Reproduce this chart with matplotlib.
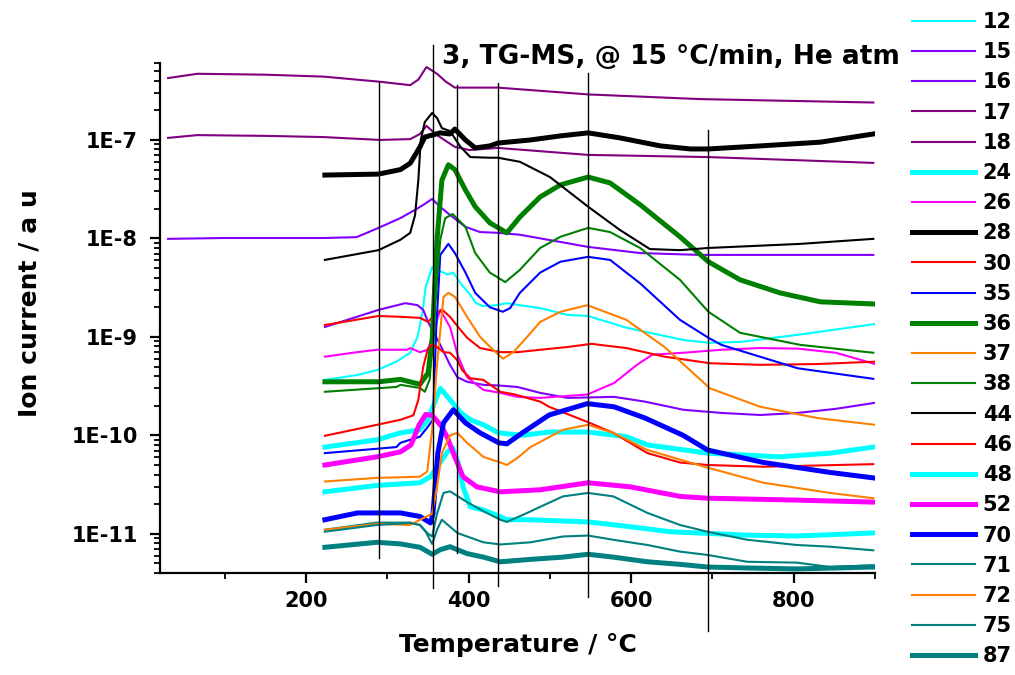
import matplotlib
matplotlib.use("Agg")
import matplotlib.pyplot as plt
from matplotlib.ticker import FixedLocator, LogLocator, FuncFormatter, MultipleLocator, NullFormatter
import math

plt.rcParams['font.family'] = ['DejaVu Sans']
plt.rcParams['font.weight'] = 'bold'

title = "3, TG-MS, @ 15 °C/min, He atm"
x_label = "Temperature / °C"
y_label = "Ion current / a u"

t12 = [223, 263, 287, 311, 328, 337, 343, 347, 355, 361, 374, 381, 390, 402, 409, 418, 435, 447, 463, 488, 522, 547, 594, 664, 697, 735, 805, 900]
v12 = [3.66e-10, 4.1e-10, 4.6e-10, 5.6e-10, 6.9e-10, 1.0e-9, 1.75e-9, 3.2e-9, 5.1e-9, 4.8e-9, 4.3e-9, 4.5e-9, 3.5e-9, 2.67e-9, 2.2e-9, 2.05e-9, 2.1e-9, 2.2e-9, 2.1e-9, 1.96e-9, 1.67e-9, 1.63e-9, 1.24e-9, 9.3e-10, 8.7e-10, 8.9e-10, 1.05e-9, 1.35e-9]

t15 = [223, 289, 322, 337, 344, 350, 365, 377, 386, 398, 418, 439, 460, 488, 522, 579, 617, 664, 711, 759, 805, 852, 900]
v15 = [1.26e-9, 1.88e-9, 2.2e-9, 2.1e-9, 1.88e-9, 1.42e-9, 8.3e-10, 5.2e-10, 3.9e-10, 3.5e-10, 3.26e-10, 3.2e-10, 3.1e-10, 2.7e-10, 2.4e-10, 2.46e-10, 2.2e-10, 1.82e-10, 1.69e-10, 1.61e-10, 1.69e-10, 1.86e-10, 2.14e-10]

t16 = [30, 100, 221, 262, 289, 316, 334, 346, 355, 365, 377, 396, 414, 436, 463, 513, 547, 611, 685, 898]
v16 = [9.9e-9, 1.01e-8, 1.01e-8, 1.03e-8, 1.28e-8, 1.61e-8, 1.95e-8, 2.24e-8, 2.52e-8, 2.09e-8, 1.73e-8, 1.31e-8, 1.16e-8, 1.14e-8, 1.09e-8, 9.2e-9, 8.2e-9, 7.1e-9, 6.8e-9, 6.8e-9]

t17 = [30, 66, 150, 221, 291, 328, 340, 348, 361, 383, 401, 436, 547, 695, 898]
v17 = [1.05e-7, 1.12e-7, 1.1e-7, 1.07e-7, 1.0e-7, 1.02e-7, 1.15e-7, 1.39e-7, 1.12e-7, 8.5e-8, 7.9e-8, 8.3e-8, 7.05e-8, 6.7e-8, 5.85e-8]

t18 = [30, 66, 150, 221, 291, 328, 338, 348, 361, 372, 383, 436, 547, 685, 898]
v18 = [4.25e-7, 4.7e-7, 4.6e-7, 4.4e-7, 3.9e-7, 3.6e-7, 4.1e-7, 5.5e-7, 4.7e-7, 3.9e-7, 3.4e-7, 3.4e-7, 2.9e-7, 2.6e-7, 2.4e-7]

t24 = [223, 287, 316, 340, 350, 356, 365, 377, 390, 402, 418, 437, 466, 499, 547, 594, 620, 694, 783, 845, 898]
v24 = [7.6e-11, 9.0e-11, 1.06e-10, 1.14e-10, 1.44e-10, 1.95e-10, 3.0e-10, 2.3e-10, 1.7e-10, 1.44e-10, 1.28e-10, 1.06e-10, 1.0e-10, 1.08e-10, 1.08e-10, 9.7e-11, 8.0e-11, 6.6e-11, 6.05e-11, 6.6e-11, 7.6e-11]

t26 = [223, 263, 287, 324, 328, 340, 350, 357, 365, 377, 387, 398, 418, 439, 460, 488, 546, 579, 607, 626, 664, 711, 759, 805, 852, 900]
v26 = [6.3e-10, 7.0e-10, 7.4e-10, 7.4e-10, 7.7e-10, 7.0e-10, 7.4e-10, 1.18e-9, 1.88e-9, 1.26e-9, 6.3e-10, 3.9e-10, 2.9e-10, 2.7e-10, 2.46e-10, 2.4e-10, 2.6e-10, 3.4e-10, 5.2e-10, 6.6e-10, 6.9e-10, 7.4e-10, 7.7e-10, 7.6e-10, 6.9e-10, 5.3e-10]

t28 = [223, 289, 316, 328, 340, 346, 365, 377, 383, 396, 408, 426, 436, 476, 513, 547, 586, 636, 673, 695, 759, 833, 898]
v28 = [4.4e-8, 4.5e-8, 5.0e-8, 5.8e-8, 8.5e-8, 1.07e-7, 1.18e-7, 1.15e-7, 1.29e-7, 1.0e-7, 8.3e-8, 8.7e-8, 9.3e-8, 1.0e-7, 1.1e-7, 1.18e-7, 1.05e-7, 8.7e-8, 8.1e-8, 8.1e-8, 8.7e-8, 9.5e-8, 1.15e-7]

t30 = [223, 289, 316, 340, 350, 356, 367, 377, 387, 398, 414, 439, 460, 488, 522, 551, 594, 641, 697, 759, 829, 900]
v30 = [1.32e-9, 1.63e-9, 1.6e-9, 1.56e-9, 1.42e-9, 1.6e-9, 1.9e-9, 1.6e-9, 1.26e-9, 9.8e-10, 7.7e-10, 7.0e-10, 7.0e-10, 7.4e-10, 7.9e-10, 8.5e-10, 7.7e-10, 6.3e-10, 5.4e-10, 5.2e-10, 5.3e-10, 5.6e-10]

t35 = [223, 311, 316, 340, 349, 356, 360, 365, 375, 383, 396, 408, 426, 442, 451, 463, 488, 513, 547, 574, 611, 660, 695, 711, 805, 898]
v35 = [6.6e-11, 7.6e-11, 8.4e-11, 9.7e-11, 1.2e-10, 1.44e-10, 1.18e-9, 6.8e-9, 8.8e-9, 7.1e-9, 4.5e-9, 2.8e-9, 2.0e-9, 1.8e-9, 1.96e-9, 2.8e-9, 4.5e-9, 5.8e-9, 6.5e-9, 6.05e-9, 3.5e-9, 1.49e-9, 9.8e-10, 8.3e-10, 4.8e-10, 3.75e-10]

t36 = [223, 289, 316, 340, 350, 355, 361, 367, 375, 383, 396, 408, 426, 447, 463, 488, 513, 547, 574, 611, 660, 695, 734, 783, 833, 898]
v36 = [3.5e-10, 3.5e-10, 3.7e-10, 3.3e-10, 4.3e-10, 9.3e-10, 9.7e-9, 3.9e-8, 5.6e-8, 5.0e-8, 3.1e-8, 2.1e-8, 1.44e-8, 1.14e-8, 1.65e-8, 2.64e-8, 3.5e-8, 4.2e-8, 3.66e-8, 2.2e-8, 1.04e-8, 5.8e-9, 3.8e-9, 2.8e-9, 2.27e-9, 2.16e-9]

t37 = [223, 287, 340, 349, 355, 361, 369, 375, 383, 398, 414, 430, 442, 455, 472, 488, 513, 546, 594, 641, 697, 759, 829, 900]
v37 = [3.4e-11, 3.7e-11, 3.8e-11, 4.3e-11, 1.14e-10, 5.2e-10, 2.55e-9, 2.8e-9, 2.55e-9, 1.6e-9, 1.0e-9, 7.4e-10, 6.0e-10, 7.0e-10, 1.0e-9, 1.42e-9, 1.8e-9, 2.1e-9, 1.49e-9, 7.9e-10, 3.0e-10, 1.95e-10, 1.5e-10, 1.28e-10]

t38 = [223, 311, 316, 340, 346, 352, 359, 365, 371, 380, 396, 408, 426, 445, 463, 488, 513, 547, 574, 611, 660, 695, 734, 808, 898]
v38 = [2.77e-10, 3.1e-10, 3.26e-10, 3.03e-10, 2.77e-10, 3.7e-10, 2.4e-9, 9.7e-9, 1.6e-8, 1.77e-8, 1.31e-8, 7.1e-9, 4.5e-9, 3.6e-9, 4.8e-9, 8.0e-9, 1.04e-8, 1.28e-8, 1.16e-8, 8.0e-9, 3.8e-9, 1.8e-9, 1.1e-9, 8.3e-10, 6.9e-10]

t44 = [223, 289, 316, 328, 334, 338, 341, 346, 355, 361, 367, 377, 390, 402, 426, 436, 463, 500, 547, 586, 623, 660, 695, 808, 898]
v44 = [6.05e-9, 7.6e-9, 9.7e-9, 1.14e-8, 1.73e-8, 3.9e-8, 1.0e-7, 1.52e-7, 1.88e-7, 1.67e-7, 1.32e-7, 1.23e-7, 8.5e-8, 6.7e-8, 6.6e-8, 6.6e-8, 6.0e-8, 4.2e-8, 2.1e-8, 1.22e-8, 7.8e-9, 7.6e-9, 8.0e-9, 8.8e-9, 9.9e-9]

t46 = [223, 287, 316, 332, 338, 344, 350, 355, 361, 369, 377, 386, 392, 402, 418, 439, 457, 488, 499, 546, 578, 620, 660, 694, 763, 898]
v46 = [9.9e-11, 1.28e-10, 1.44e-10, 1.6e-10, 2.3e-10, 4.95e-10, 7.7e-10, 8.3e-10, 7.9e-10, 7.0e-10, 6.9e-10, 5.8e-10, 4.6e-10, 3.8e-10, 3.66e-10, 2.77e-10, 2.6e-10, 2.2e-10, 1.95e-10, 1.37e-10, 1.06e-10, 6.6e-11, 5.3e-11, 5.0e-11, 4.8e-11, 5.1e-11]

t48 = [223, 287, 340, 353, 361, 374, 380, 387, 393, 402, 418, 439, 447, 476, 547, 599, 648, 743, 804, 898]
v48 = [2.67e-11, 3.1e-11, 3.3e-11, 3.8e-11, 4.8e-11, 6.8e-11, 7.5e-11, 5.3e-11, 3.0e-11, 1.88e-11, 1.75e-11, 1.49e-11, 1.39e-11, 1.39e-11, 1.32e-11, 1.18e-11, 1.05e-11, 9.7e-12, 9.5e-12, 1.02e-11]

t52 = [223, 287, 316, 329, 339, 347, 355, 367, 374, 381, 393, 410, 439, 488, 547, 599, 660, 694, 804, 898]
v52 = [5.0e-11, 6.05e-11, 6.8e-11, 8.0e-11, 1.28e-10, 1.63e-10, 1.6e-10, 1.22e-10, 9.4e-11, 6.6e-11, 3.8e-11, 3.0e-11, 2.67e-11, 2.8e-11, 3.3e-11, 3.0e-11, 2.4e-11, 2.3e-11, 2.2e-11, 2.1e-11]

t70 = [223, 263, 287, 316, 340, 353, 356, 362, 369, 381, 396, 414, 437, 447, 466, 499, 546, 579, 617, 664, 694, 763, 845, 898]
v70 = [1.39e-11, 1.63e-11, 1.63e-11, 1.63e-11, 1.5e-11, 1.29e-11, 1.6e-11, 6.6e-11, 1.34e-10, 1.82e-10, 1.34e-10, 1.06e-10, 8.4e-11, 8.2e-11, 1.06e-10, 1.61e-10, 2.1e-10, 1.95e-10, 1.5e-10, 1.0e-10, 7.1e-11, 5.3e-11, 4.2e-11, 3.7e-11]

t71 = [223, 287, 328, 340, 350, 355, 361, 369, 377, 398, 418, 439, 447, 472, 488, 516, 547, 578, 620, 660, 694, 743, 804, 845, 898]
v71 = [1.1e-11, 1.3e-11, 1.3e-11, 1.23e-11, 1.0e-11, 9.4e-12, 1.6e-11, 2.6e-11, 2.7e-11, 2.1e-11, 1.7e-11, 1.39e-11, 1.32e-11, 1.63e-11, 1.88e-11, 2.4e-11, 2.6e-11, 2.4e-11, 1.63e-11, 1.23e-11, 1.05e-11, 8.7e-12, 7.7e-12, 7.4e-12, 6.8e-12]

t72 = [223, 287, 328, 340, 355, 361, 367, 377, 386, 398, 418, 439, 447, 460, 476, 516, 547, 578, 620, 694, 763, 845, 898]
v72 = [1.1e-11, 1.26e-11, 1.23e-11, 1.39e-11, 1.6e-11, 3.0e-11, 6.6e-11, 1.0e-10, 1.06e-10, 8.4e-11, 6.05e-11, 5.3e-11, 5.0e-11, 5.9e-11, 7.6e-11, 1.14e-10, 1.28e-10, 1.06e-10, 7.1e-11, 4.7e-11, 3.3e-11, 2.6e-11, 2.3e-11]

t75 = [223, 287, 328, 340, 347, 355, 361, 367, 377, 386, 398, 418, 439, 476, 516, 547, 578, 620, 660, 694, 743, 804, 845, 898]
v75 = [1.05e-11, 1.23e-11, 1.29e-11, 1.23e-11, 1.05e-11, 7.9e-12, 1.1e-11, 1.39e-11, 1.18e-11, 1.02e-11, 9.4e-12, 8.2e-12, 7.8e-12, 8.2e-12, 9.4e-12, 9.6e-12, 8.7e-12, 7.7e-12, 6.6e-12, 6.1e-12, 5.2e-12, 5.1e-12, 4.6e-12, 4.8e-12]

t87 = [223, 287, 316, 340, 355, 365, 377, 386, 398, 418, 439, 476, 516, 547, 578, 620, 660, 694, 743, 804, 898]
v87 = [7.3e-12, 8.2e-12, 7.9e-12, 7.3e-12, 6.2e-12, 6.9e-12, 7.4e-12, 6.9e-12, 6.3e-12, 5.8e-12, 5.2e-12, 5.5e-12, 5.8e-12, 6.2e-12, 5.8e-12, 5.2e-12, 4.9e-12, 4.6e-12, 4.5e-12, 4.4e-12, 4.6e-12]

mz_labels = ["12", "15", "16", "17", "18", "24", "26", "28", "30", "35", "36",
             "37", "38", "44", "46", "48", "52", "70", "71", "72", "75", "87"]
xs = [t12, t15, t16, t17, t18, t24, t26, t28, t30, t35, t36,
      t37, t38, t44, t46, t48, t52, t70, t71, t72, t75, t87]
ys = [v12, v15, v16, v17, v18, v24, v26, v28, v30, v35, v36,
      v37, v38, v44, v46, v48, v52, v70, v71, v72, v75, v87]

vline_temps = [289, 356, 386, 436, 547, 695]

# styles
CY, VI, PU, MA, BK, RD, BL, GR, OR, TE = ('#00FFFF', '#8000FF', '#800080', '#FF00FF', '#000000',
                                          '#FF0000', '#0000FF', '#008000', '#FF8000', '#008080')
colors = [CY, VI, VI, PU, PU, CY, MA, BK, RD, BL, GR, OR, GR, BK, RD, CY, MA, BL, TE, OR, TE, TE]
thick = [False, False, False, False, False, True, False, True, False, False, True,
         False, False, False, False, True, True, True, False, False, False, True]
vline_ext = [(0.029, 0.963), (-0.029, 1.035), (0.039, 0.957), (-0.025, 0.961), (-0.047, 0.98), (-0.114, 0.869)]

fig = plt.figure(figsize=(10.15, 6.75), dpi=100)
ax = fig.add_axes([0.1576, 0.1511, 0.7044, 0.7556])

handles = []
for lab, x, y, c, th in zip(mz_labels, xs, ys, colors, thick):
    ln, = ax.plot(x, y, color=c, lw=3.6 if th else 1.5, label=lab, solid_joinstyle='round')
    handles.append(ln)

trans = ax.get_xaxis_transform()
for t, (lo, hi) in zip(vline_temps, vline_ext):
    ax.plot([t, t], [lo, hi], transform=trans, color='black', lw=1.0, clip_on=False, zorder=10)

ax.set_yscale('log')
ax.set_xlim(20, 900)
ax.set_ylim(4.0e-12, 6.05e-7)

ax.xaxis.set_major_locator(MultipleLocator(200))
ax.xaxis.set_minor_locator(MultipleLocator(100))
ax.yaxis.set_major_locator(FixedLocator([1e-11, 1e-10, 1e-9, 1e-8, 1e-7]))
ax.yaxis.set_minor_locator(LogLocator(base=10, subs=[2, 3, 4, 5, 6, 7, 8, 9], numticks=20))
ax.yaxis.set_minor_formatter(NullFormatter())


def fmt(v, pos):
    e = int(round(math.log10(v)))
    return "1E%d" % e


ax.yaxis.set_major_formatter(FuncFormatter(fmt))

for s in ['top', 'right']:
    ax.spines[s].set_visible(False)
for s in ['left', 'bottom']:
    ax.spines[s].set_linewidth(1.6)

ax.tick_params(which='major', direction='out', length=7, width=1.6, labelsize=15)
ax.tick_params(which='minor', direction='out', length=4, width=1.3)
ax.tick_params(axis='y', which='major', pad=9)
ax.tick_params(axis='x', which='major', pad=6)

ax.set_xlabel(x_label, fontsize=18, fontweight='bold')
ax.xaxis.set_label_coords(0.5, -0.118)
ax.set_ylabel(y_label, fontsize=18, fontweight='bold')
ax.yaxis.set_label_coords(-0.165, 0.53)

ax.set_title(title, x=(671 - 160) / 715, y=(573 - 64) / 510, pad=0, fontsize=19, fontweight='bold')

fig.legend(handles=handles, loc='upper left', bbox_to_anchor=(912 / 1015, 1 - 12 / 675),
           frameon=False, fontsize=15, handlelength=3.0, handletextpad=0.4,
           labelspacing=0.49, borderpad=0, borderaxespad=0)

fig.savefig('out.png', dpi=100)
